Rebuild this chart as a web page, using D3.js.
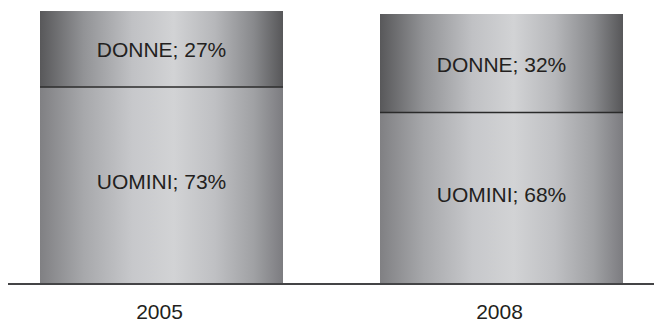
<!DOCTYPE html>
<html><head><meta charset="utf-8">
<script src="https://cdn.jsdelivr.net/npm/d3@7"></script>
<style>html,body{margin:0;padding:0;background:#fff;}svg{display:block;}</style>
</head><body>
<svg id="c" width="654" height="322"></svg>
<script>
const years = ["2005", "2008"];
const uominiValues = [72.2, 62.8];   // drawn segment heights
const donneValues = [27.8, 36.1];
const uominiLabels = [73, 68];       // printed percentages
const donneLabels = [27, 32];

const svg = d3.select("#c");
const W = 654, baseY = 284, topY = 11;
const xPos = d3.scaleOrdinal().domain(years).range([40, 380]);
const bw = 243;
const y = d3.scaleLinear().domain([0, 100]).range([baseY, topY]);

const defs = svg.append("defs");
function grad(id, stops) {
  const g = defs.append("linearGradient").attr("id", id).attr("x1", "0").attr("x2", "1").attr("y1", "0").attr("y2", "0");
  stops.forEach(s => g.append("stop").attr("offset", s[0]).attr("stop-color", s[1]));
}
grad("gD", [[0, "#58585a"], [0.18, "#929396"], [0.38, "#c0c1c4"], [0.55, "#d2d3d5"], [0.72, "#b6b7ba"], [0.88, "#88898c"], [1, "#575759"]]);
grad("gU", [[0, "#808083"], [0.18, "#a7a8ab"], [0.38, "#c7c8cb"], [0.55, "#d2d3d5"], [0.72, "#bfc0c3"], [0.88, "#a0a1a4"], [1, "#7c7c80"]]);

const data = years.map((yr, i) => ({yr, u: uominiValues[i], d: donneValues[i], ul: uominiLabels[i], dl: donneLabels[i]}));

const g = svg.selectAll("g.bar").data(data).join("g").attr("class", "bar");
g.append("rect").attr("x", d => xPos(d.yr)).attr("width", bw)
  .attr("y", d => y(d.u)).attr("height", d => baseY - y(d.u)).attr("fill", "url(#gU)");
g.append("rect").attr("x", d => xPos(d.yr)).attr("width", bw)
  .attr("y", d => y(d.u + d.d)).attr("height", d => y(d.u) - y(d.u + d.d)).attr("fill", "url(#gD)");
g.append("line").attr("x1", d => xPos(d.yr)).attr("x2", d => xPos(d.yr) + bw)
  .attr("y1", d => y(d.u)).attr("y2", d => y(d.u)).attr("stroke", "#2a2a2a").attr("stroke-width", 1.5);

const font = "'Liberation Sans', Arial, sans-serif";
g.append("text").attr("x", d => xPos(d.yr) + bw / 2).attr("y", d => (y(d.u) + y(d.u + d.d)) / 2 + 1)
  .attr("text-anchor", "middle").attr("dominant-baseline", "central")
  .style("font-family", font).style("font-size", "21px").attr("fill", "#231f20")
  .text(d => `DONNE; ${d.dl}%`);
g.append("text").attr("x", d => xPos(d.yr) + bw / 2).attr("y", d => (baseY + y(d.u)) / 2 - 4)
  .attr("text-anchor", "middle").attr("dominant-baseline", "central")
  .style("font-family", font).style("font-size", "21px").attr("fill", "#231f20")
  .text(d => `UOMINI; ${d.ul}%`);

svg.append("line").attr("x1", 8).attr("x2", W).attr("y1", baseY).attr("y2", baseY)
  .attr("stroke", "#444446").attr("stroke-width", 2);

svg.selectAll("text.yr").data(years).join("text").attr("class", "yr")
  .attr("x", d => xPos(d) + bw / 2 - 2).attr("y", 319)
  .attr("text-anchor", "middle")
  .style("font-family", font).style("font-size", "21px").attr("fill", "#231f20")
  .text(d => d);
</script>
</body></html>
